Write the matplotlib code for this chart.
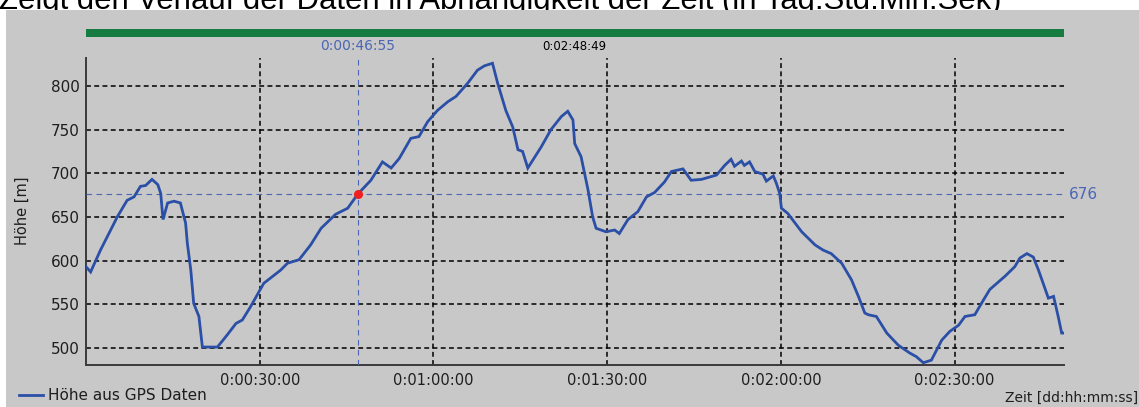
import matplotlib
matplotlib.use("Agg")
import matplotlib.pyplot as plt
from matplotlib.patches import Rectangle
from matplotlib.lines import Line2D

# Höhenprofil einer GPS-Aufzeichnung, Zeit in Minuten seit Start
zeit_min = [0, 0.8, 2.5, 5.4, 7.1, 8.3, 9.4, 10.3, 11.4, 12.4,
            12.9, 13.3, 14.1, 15.2, 16.3, 17.2, 17.5, 18.1, 18.6, 19.5,
            20.1, 22.7, 24.4, 25.9, 27.0, 28.4, 30.7, 33.6, 34.8, 36.8,
            38.8, 40.6, 43.1, 45.2, 46.92, 49.2, 51.2, 52.7, 54.1, 56.1,
            57.5, 59.0, 60.7, 62.5, 63.9, 65.9, 67.6, 68.8, 70.2, 71.1,
            72.5, 73.7, 74.6, 75.4, 76.3, 78.6, 80.3, 82.1, 83.2, 84.1,
            84.4, 85.5, 86.7, 87.5, 88.1, 89.8, 91.3, 92.1, 93.6, 95.3,
            96.8, 98.2, 99.9, 101.1, 103.1, 104.5, 106.3, 108.9, 110.3, 111.4,
            112.0, 113.2, 113.7, 114.6, 115.5, 116.9, 117.5, 118.7, 119.2, 119.8,
            120.1, 121.2, 123.6, 125.9, 127.3, 128.7, 130.5, 132.2, 133.4, 134.5,
            135.1, 136.5, 138.3, 140.3, 142.3, 143.4, 144.6, 146.0, 147.8, 149.2,
            150.7, 151.8, 153.5, 155.0, 156.1, 158.7, 160.4, 161.3, 162.5, 163.6,
            164.5, 165.3, 166.2, 167.1, 167.9, 168.5, 168.8]
hoehe_m = [593, 587, 612, 650, 669, 673, 685, 686, 693, 687,
           677, 647, 666, 668, 666, 643, 620, 589, 551, 536,
           501, 501, 515, 528, 532, 547, 574, 589, 597, 601,
           618, 637, 653, 660, 676, 692, 713, 706, 717, 740,
           742, 759, 772, 782, 788, 803, 818, 823, 826, 803,
           772, 753, 727, 725, 706, 730, 750, 765, 771, 761,
           734, 719, 681, 650, 637, 633, 635, 631, 647, 656,
           673, 678, 690, 702, 705, 692, 693, 698, 709, 716,
           708, 714, 709, 713, 702, 699, 691, 697, 689, 677,
           660, 654, 633, 618, 612, 608, 597, 578, 559, 540,
           538, 536, 517, 503, 494, 490, 483, 486, 509, 519,
           526, 536, 538, 555, 567, 582, 593, 603, 608, 604,
           589, 574, 557, 559, 536, 517, 517]

gesamt_min = 168 + 49 / 60      # 0:02:48:49
cursor_min = 46 + 55 / 60       # 0:00:46:55
cursor_hoehe = 676
x_ticks = [30, 60, 90, 120, 150]
y_ticks = [500, 550, 600, 650, 700, 750, 800]

GRAU = "#c8c8c8"
BLAU = "#2b4fa6"
CURSOR_BLAU = "#4a66b4"
GRUEN = "#167c42"

W, H = 1139, 407


def px(x, y):
    # Pixel (von oben links) -> Figurkoordinaten
    return x / W, 1 - y / H


def zeit_fmt(m):
    s = int(round(m * 60))
    return "0:%02d:%02d:%02d" % (s // 3600, (s // 60) % 60, s % 60)


plt.rcParams["font.family"] = ["DejaVu Sans"]
fig = plt.figure(figsize=(W / 100, H / 100), dpi=100, facecolor="white")

# Überschrift, oben teilweise abgeschnitten
fig.text(*px(-1, 8.5), "Zeigt den Verlauf der Daten in Abhängigkeit der Zeit (in Tag:Std:Min:Sek)",
         fontsize=22.3, family="Liberation Sans", va="baseline", ha="left", zorder=-2)
fig.patches.append(Rectangle(px(6, H), (W - 6) / W, (H - 10) / H, transform=fig.transFigure,
                             facecolor=GRAU, edgecolor="none", zorder=-1))

x0, y0 = px(86, 364.5)
ax = fig.add_axes([x0, y0, 977.5 / W, 306.5 / H])
ax.set_facecolor("none")

ax.plot(zeit_min, hoehe_m, color=BLAU, lw=2.0, zorder=4, solid_joinstyle="miter")

# Cursor
ax.axvline(cursor_min, color=CURSOR_BLAU, lw=0.8, ls=(0, (5, 4)), zorder=3)
ax.axhline(cursor_hoehe, color=CURSOR_BLAU, lw=0.8, ls=(0, (5, 4)), zorder=3)
ax.plot([cursor_min], [cursor_hoehe], "o", color="#f01e1e", ms=5.5, zorder=5)

ax.set_xlim(0, gesamt_min)
ax.set_ylim(481, 832)
ax.set_xticks(x_ticks)
ax.set_xticklabels([zeit_fmt(t) for t in x_ticks])
ax.set_yticks(y_ticks)
ax.tick_params(axis="both", length=0, colors="#1e1e1e")
ax.tick_params(axis="y", labelsize=11, pad=4.5)
ax.tick_params(axis="x", labelsize=10.5, pad=6)
ax.grid(True, color="black", lw=1.1, ls=(0, (3.2, 2.2)), zorder=1)
for s in ("top", "right"):
    ax.spines[s].set_visible(False)
for s in ("left", "bottom"):
    ax.spines[s].set_color("#3a3a3a")
    ax.spines[s].set_linewidth(1.4)

# Übersichtsbalken über dem Diagramm
xt = ax.get_xaxis_transform()
ax.add_patch(Rectangle((0, 1.0685), gesamt_min, 0.026, transform=xt, clip_on=False,
                       facecolor=GRUEN, edgecolor="none"))
ax.text(cursor_min, 1.039, zeit_fmt(cursor_min), transform=xt, ha="center", va="center",
        fontsize=9.9, color=CURSOR_BLAU)
ax.text(gesamt_min / 2, 1.039, zeit_fmt(gesamt_min), transform=xt, ha="center", va="center",
        fontsize=8.5, color="black")
ax.text(1.005, cursor_hoehe, str(cursor_hoehe), transform=ax.get_yaxis_transform(),
        ha="left", va="center", fontsize=11, color=CURSOR_BLAU)

fig.text(*px(22, 211), "Höhe [m]", rotation=90, ha="center", va="center", fontsize=10.5,
         color="#1e1e1e")
fig.text(*px(1138, 398), "Zeit [dd:hh:mm:ss]", ha="right", va="center", fontsize=10,
         color="#1e1e1e")
fig.legend([Line2D([], [], color=BLAU, lw=2.0)], ["Höhe aus GPS Daten"],
           loc="center left", bbox_to_anchor=px(19, 396), frameon=False, fontsize=11,
           handlelength=1.57, handletextpad=0.33, borderpad=0, borderaxespad=0,
           labelcolor="#1e1e1e")

fig.savefig("out.png", dpi=100)
